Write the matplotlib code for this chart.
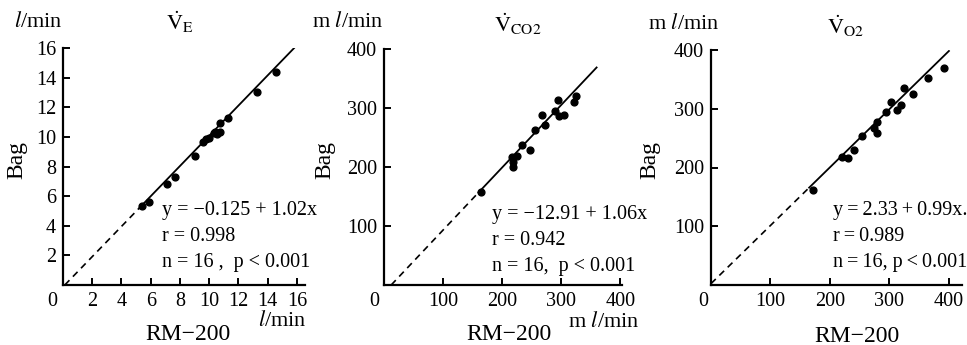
import matplotlib
matplotlib.use("Agg")
import numpy as np
import matplotlib.pyplot as plt

plt.rcParams['font.family'] = ['Liberation Serif', 'DejaVu Serif']
plt.rcParams['mathtext.fontset'] = 'stix'

# V_E (l/min)
ve_x = [5.4, 5.9, 7.1, 7.65, 9.05, 9.55, 9.75, 10.0, 10.3, 10.4, 10.5, 10.75, 10.75, 11.3, 13.3, 14.6]
ve_y = [5.35, 5.6, 6.8, 7.3, 8.7, 9.65, 9.85, 9.95, 10.25, 10.3, 10.2, 10.95, 10.3, 11.3, 13.0, 14.4]

# V_CO2 (ml/min)
vco2_x = [165, 216, 219, 218, 225, 233, 247, 256, 273, 267, 290, 294, 297, 305, 321, 325]
vco2_y = [157, 217, 200, 208, 219, 238, 229, 263, 271, 288, 295, 314, 287, 288, 311, 321]

# V_O2 (ml/min)
vo2_x = [171, 221, 230, 240, 254, 274, 279, 279, 295, 303, 312, 319, 324, 340, 364, 391]
vo2_y = [161, 218, 217, 229, 254, 267, 278, 258, 295, 311, 298, 307, 335, 325, 352, 369]

# regression: intercept, slope, solid-line start, end
fits = [(-0.125, 1.02, 5.2, 15.8), (-12.91, 1.06, 160, 360), (2.33, 0.99, 165, 400)]

W, H = 967, 345
fig = plt.figure(figsize=(W / 100, H / 100), dpi=100)


def add_axes(x0, x1, ytop, yorig=285):
    return fig.add_axes([x0 / W, (H - yorig) / H, (x1 - x0) / W, (yorig - ytop) / H])


ts = "\u2009"  # thin space, the third panel is tight at the right edge
panels = [
    dict(ax=add_axes(63, 305, 48), x=ve_x, y=ve_y, xlim=(0, 16.55), ylim=(0, 16),
         ticks=np.arange(2, 17, 2), title=r"$\dot{\mathrm{V}}_{\mathrm{E}}$",
         text=["y = −0.125 + 1.02x", "r = 0.998", "n = 16 ,  p < 0.001"], txy=(162, 210)),
    dict(ax=add_axes(384, 622, 49), x=vco2_x, y=vco2_y, xlim=(0, 403), ylim=(0, 400),
         ticks=np.arange(100, 401, 100), title=r"$\dot{\mathrm{V}}_{\mathrm{CO2}}$",
         text=["y = −12.91 + 1.06x", "r = 0.942", "n = 16,  p < 0.001"], txy=(492, 214)),
    dict(ax=add_axes(711, 962, 50), x=vo2_x, y=vo2_y, xlim=(0, 422), ylim=(0, 400),
         ticks=np.arange(100, 401, 100), title=r"$\dot{\mathrm{V}}_{\mathrm{O2}}$",
         text=[f"y{ts}={ts}2.33{ts}+{ts}0.99x.", f"r{ts}={ts}0.989",
               f"n{ts}={ts}16, p{ts}<{ts}0.001"], txy=(833, 210)),
]

fs = 14.5
for p, (a, b, xs, xe) in zip(panels, fits):
    ax = p['ax']
    ax.scatter(p['x'], p['y'], s=24, color='black', zorder=3)
    x0 = max(0, -a / b)
    ax.plot([x0, xs], [a + b * x0, a + b * xs], color='black', lw=1.2, ls=(0, (4, 3)))
    ax.plot([xs, xe], [a + b * xs, a + b * xe], color='black', lw=1.3)
    ax.set_xlim(*p['xlim'])
    ax.set_ylim(*p['ylim'])
    ax.set_xticks(p['ticks'])
    ax.set_yticks(p['ticks'])
    ax.spines['top'].set_visible(False)
    ax.spines['right'].set_visible(False)
    for s in ('left', 'bottom'):
        ax.spines[s].set_linewidth(1.6)
    ax.tick_params(direction='in', length=5, width=1.4, labelsize=fs, pad=5)
    ax.patch.set_alpha(0)
    for i, line in enumerate(p['text']):
        fig.text(p['txy'][0] / W, 1 - (p['txy'][1] + i * 26.5) / H, line,
                 fontsize=fs, va='center', ha='left')

# corner zeros, unit labels, titles
fig.text(52 / W, 1 - 302 / H, "0", fontsize=fs, ha='center', va='center')
fig.text(374 / W, 1 - 302 / H, "0", fontsize=fs, ha='center', va='center')
fig.text(703 / W, 1 - 302 / H, "0", fontsize=fs, ha='center', va='center')

fig.text(14 / W, 1 - 22 / H, r"$l$/min", fontsize=16, ha='left', va='center')
fig.text(312 / W, 1 - 22 / H, r"m $l$/min", fontsize=16, ha='left', va='center')
fig.text(648 / W, 1 - 24 / H, r"m $l$/min", fontsize=16, ha='left', va='center')

fig.text(180 / W, 1 - 22 / H, panels[0]['title'], fontsize=16, ha='center', va='center')
fig.text(518 / W, 1 - 24 / H, panels[1]['title'], fontsize=16, ha='center', va='center')
fig.text(846 / W, 1 - 26 / H, panels[2]['title'], fontsize=16, ha='center', va='center')

for x in (17, 325, 650):
    fig.text(x / W, 1 - 160 / H, "Bag", fontsize=17, rotation=90, ha='center', va='center')

fig.text(188 / W, 1 - 335 / H, "RM−200", fontsize=17, ha='center', va='center')
fig.text(509 / W, 1 - 335 / H, "RM−200", fontsize=17, ha='center', va='center')
fig.text(857 / W, 1 - 336 / H, "RM−200", fontsize=17, ha='center', va='center')

fig.text(282 / W, 1 - 321 / H, r"$l$/min", fontsize=16, ha='center', va='center')
fig.text(604 / W, 1 - 322 / H, r"m $l$/min", fontsize=16, ha='center', va='center')

fig.savefig("out.png", dpi=100)
